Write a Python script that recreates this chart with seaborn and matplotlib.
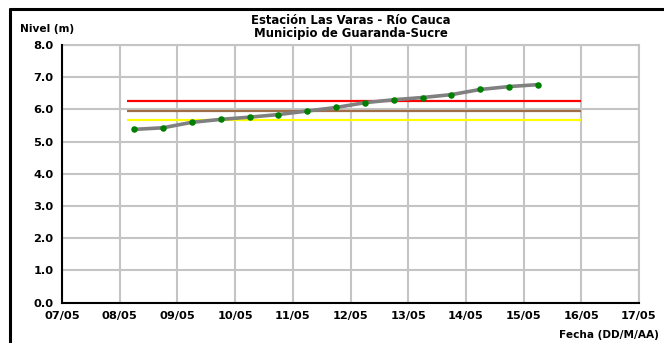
import matplotlib
matplotlib.use("Agg")
import matplotlib.pyplot as plt
import matplotlib.dates as mdates
from matplotlib.lines import Line2D
import seaborn as sns
import pandas as pd

# ---- data ----
fechas = ["2011-05-08 06:00", "2011-05-08 18:00", "2011-05-09 06:00", "2011-05-09 18:00",
          "2011-05-10 06:00", "2011-05-10 18:00", "2011-05-11 06:00", "2011-05-11 18:00",
          "2011-05-12 06:00", "2011-05-12 18:00", "2011-05-13 06:00", "2011-05-13 18:00",
          "2011-05-14 06:00", "2011-05-14 18:00", "2011-05-15 06:00"]
nivel = [5.38, 5.43, 5.60, 5.69, 5.76, 5.84, 5.95, 6.06,
         6.21, 6.30, 6.37, 6.46, 6.62, 6.71, 6.77]
umbral_valores = [6.26, 5.96, 5.67]
umbral_colores = ["#ff0000", "#a06e46", "#ffff00"]
umbral_inicio = "2011-05-08 03:00"
umbral_fin = "2011-05-16 00:00"
x_min, x_max = "2011-05-07", "2011-05-17"
y_ticks = [0.0, 1.0, 2.0, 3.0, 4.0, 5.0, 6.0, 7.0, 8.0]
titulo = "Estación Las Varas - Río Cauca\nMunicipio de Guaranda-Sucre"
y_label = "Nivel (m)"
x_label = "Fecha (DD/M/AA)"

df = pd.DataFrame({"fecha": pd.to_datetime(fechas), "nivel": nivel})

sns.set_style("white")
plt.rcParams["font.family"] = ["DejaVu Sans"]
plt.rcParams["font.weight"] = "bold"
plt.rcParams["text.color"] = "black"
plt.rcParams["xtick.color"] = "black"
plt.rcParams["ytick.color"] = "black"
plt.rcParams["xtick.labelcolor"] = "black"
plt.rcParams["ytick.labelcolor"] = "black"

fig = plt.figure(figsize=(6.64, 3.43), dpi=100)
ax = fig.add_axes([62 / 664, 1 - 302.7 / 343, (639 - 62) / 664, (302.7 - 45) / 343])

# thresholds
for v, c in zip(umbral_valores, umbral_colores):
    ax.hlines(v, pd.Timestamp(umbral_inicio), pd.Timestamp(umbral_fin), colors=c, lw=1.6, zorder=3)

sns.lineplot(data=df, x="fecha", y="nivel", ax=ax, color="#808080", lw=2.6, zorder=4)
sns.scatterplot(data=df, x="fecha", y="nivel", ax=ax, color="#008000", s=22,
                edgecolor="#008000", linewidth=0, zorder=5)

ax.set_xlim(pd.Timestamp(x_min), pd.Timestamp(x_max))
ax.set_ylim(0, 8)
ax.set_yticks(y_ticks)
ax.set_yticklabels([f"{t:.1f}" for t in y_ticks])
ax.xaxis.set_major_locator(mdates.DayLocator())
ax.xaxis.set_major_formatter(mdates.DateFormatter("%d/%m"))

ax.grid(True, color="#c4c4c4", lw=1.5)
ax.set_axisbelow(True)
for s in ["top", "right"]:
    ax.spines[s].set_color("#c4c4c4")
    ax.spines[s].set_linewidth(1.5)
for s in ["left", "bottom"]:
    ax.spines[s].set_color("black")
    ax.spines[s].set_linewidth(1.5)
    ax.spines[s].set_zorder(6)
ax.tick_params(axis="both", direction="out", length=4, width=1.2, color="black",
               labelcolor="black", labelsize=8.2, pad=2)
for lab in ax.get_xticklabels() + ax.get_yticklabels():
    lab.set_fontweight("bold")
ax.set_xlabel("")
ax.set_ylabel("")

fig.text(351 / 664, 1 - 26.8 / 343, titulo, ha="center", va="center", fontsize=8.4,
         fontweight="bold", linespacing=0.95, color="black")
fig.text(20 / 664, 1 - 29 / 343, y_label, ha="left", va="center", fontsize=7.6,
         fontweight="bold", color="black")
fig.text(659 / 664, 1 - 335 / 343, x_label, ha="right", va="center", fontsize=7.6,
         fontweight="bold", color="black")

# outer frame (top and left visible)
fig.add_artist(Line2D([10 / 664, 10 / 664], [0, 1 - 9 / 343], transform=fig.transFigure, color="black", lw=2.2))
fig.add_artist(Line2D([10 / 664, 1], [1 - 9 / 343, 1 - 9 / 343], transform=fig.transFigure, color="black", lw=2.2))

fig.savefig("out.png", dpi=100)
